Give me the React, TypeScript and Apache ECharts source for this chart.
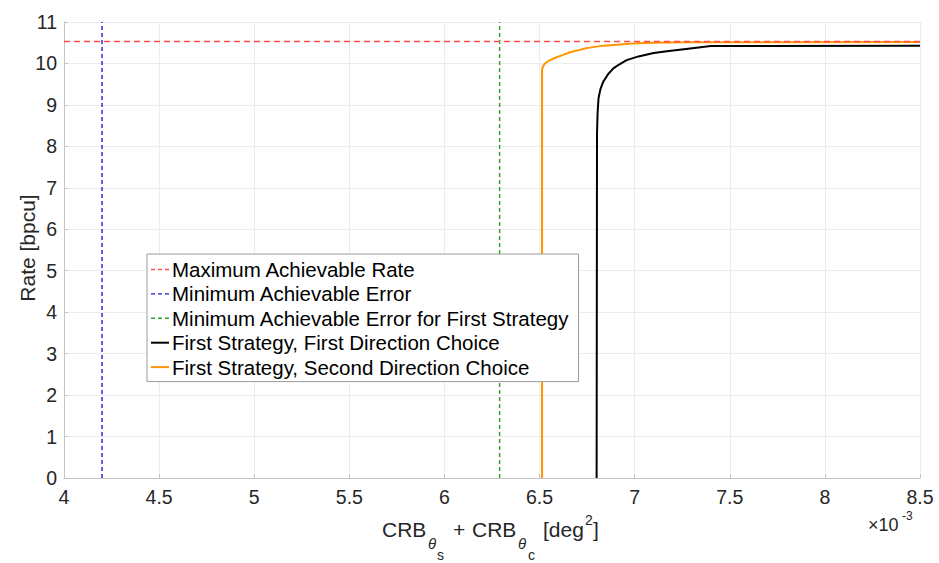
import React, { useEffect, useRef } from "react";
import * as echarts from "echarts";

const xTicksMin = 4;
const xTicksMax = 8.5;
const yTicksMin = 0;
const yTicksMax = 11;

const maxAchievableRate = 10.53;
const minAchievableError = 4.2;
const minErrorFirstStrategy = 6.29;

const firstDirX = [6.8, 6.802, 6.805, 6.81, 6.82, 6.835, 6.86, 6.888, 6.92, 6.958, 7.02, 7.1, 7.18, 7.27, 7.4, 8.5];
const firstDirY = [0, 8.3, 8.8, 9.16, 9.38, 9.56, 9.74, 9.88, 9.98, 10.08, 10.17, 10.25, 10.3, 10.35, 10.42, 10.43];

const secondDirX = [6.513, 6.513, 6.518, 6.529, 6.55, 6.573, 6.62, 6.66, 6.748, 6.835, 6.923, 7.01, 7.1, 7.27, 8.5];
const secondDirY = [0, 9.85, 9.93, 10.0, 10.07, 10.12, 10.2, 10.27, 10.37, 10.43, 10.46, 10.49, 10.5, 10.51, 10.52];

const legendNames = [
  "Maximum Achievable Rate",
  "Minimum Achievable Error",
  "Minimum Achievable Error for First Strategy",
  "First Strategy, First Direction Choice",
  "First Strategy, Second Direction Choice",
];

const FONT = "'Liberation Sans', Arial, Helvetica, sans-serif";
const TXT = "#262626";
const RED = "#ff4a4a";
const BLUE = "#1a1ad6";
const GREEN = "#25a325";
const ORANGE = "#ff9500";

export default function App() {
  const ref = useRef<HTMLDivElement>(null);
  useEffect(() => {
    if (!ref.current) return;
    const chart = echarts.init(ref.current, undefined, { renderer: "svg" });
    const zip = (xs: number[], ys: number[]) => xs.map((x, i) => [x, ys[i]]);
    const dashedLegend = (name: string, color: string) => ({
      name,
      itemStyle: { opacity: 0 },
      lineStyle: { color, width: 1.4, type: [4, 3], opacity: 1 },
    });
    const solidLegend = (name: string, color: string) => ({
      name,
      itemStyle: { opacity: 0 },
      lineStyle: { color, width: 2, type: "solid", opacity: 1 },
    });
    chart.setOption({
      animation: false,
      backgroundColor: "#ffffff",
      grid: { left: 64, right: 19, top: 22, bottom: 85, containLabel: false },
      xAxis: {
        type: "value",
        min: xTicksMin,
        max: xTicksMax,
        interval: 0.5,
        axisLine: { show: true, onZero: false, lineStyle: { color: "#c4c4c4", width: 1 } },
        axisTick: { show: true, inside: true, length: 4, lineStyle: { color: "#c4c4c4" } },
        splitLine: { show: true, lineStyle: { color: "#ececec", width: 1 } },
        axisLabel: { color: TXT, fontSize: 19.5, fontFamily: FONT, margin: 9 },
      },
      yAxis: {
        type: "value",
        min: yTicksMin,
        max: yTicksMax,
        interval: 1,
        axisLine: { show: true, onZero: false, lineStyle: { color: "#c4c4c4", width: 1 } },
        axisTick: { show: true, inside: true, length: 4, lineStyle: { color: "#c4c4c4" } },
        splitLine: { show: true, lineStyle: { color: "#ececec", width: 1 } },
        axisLabel: { color: TXT, fontSize: 19.5, fontFamily: FONT, margin: 7 },
      },
      legend: {
        show: true,
        orient: "vertical",
        left: 147,
        top: 254,
        data: [
          dashedLegend(legendNames[0], RED),
          dashedLegend(legendNames[1], BLUE),
          dashedLegend(legendNames[2], GREEN),
          solidLegend(legendNames[3], "#000000"),
          solidLegend(legendNames[4], ORANGE),
        ],
        itemWidth: 18,
        itemHeight: 14,
        itemGap: 3.4,
        padding: [5, 9, 4, 3],
        backgroundColor: "#ffffff",
        borderColor: "#9a9a9a",
        borderWidth: 1,
        borderRadius: 0,
        selectedMode: false,
        textStyle: { color: "#000000", fontSize: 20.5, fontFamily: FONT, lineHeight: 20, padding: [0, 0, 0, -2] },
      },
      series: [
        {
          name: legendNames[1],
          type: "line",
          symbol: "none",
          data: [[minAchievableError, yTicksMin], [minAchievableError, yTicksMax]],
          lineStyle: { color: BLUE, width: 1.4, type: [4, 3] },
          itemStyle: { color: BLUE },
          z: 2,
        },
        {
          name: legendNames[2],
          type: "line",
          symbol: "none",
          data: [[minErrorFirstStrategy, yTicksMin], [minErrorFirstStrategy, yTicksMax]],
          lineStyle: { color: GREEN, width: 1.4, type: [4, 3] },
          itemStyle: { color: GREEN },
          z: 2,
        },
        {
          name: legendNames[3],
          type: "line",
          symbol: "none",
          data: zip(firstDirX, firstDirY),
          lineStyle: { color: "#000000", width: 2 },
          itemStyle: { color: "#000000" },
          z: 3,
        },
        {
          name: legendNames[4],
          type: "line",
          symbol: "none",
          data: zip(secondDirX, secondDirY),
          lineStyle: { color: ORANGE, width: 2 },
          itemStyle: { color: ORANGE },
          z: 3,
        },
        {
          name: legendNames[0],
          type: "line",
          symbol: "none",
          data: [[xTicksMin, maxAchievableRate], [xTicksMax, maxAchievableRate]],
          lineStyle: { color: RED, width: 1.7, type: [6, 4] },
          itemStyle: { color: RED },
          z: 4,
        },
      ],
      graphic: [
        {
          type: "text",
          x: 27,
          y: 248,
          rotation: Math.PI / 2,
          style: { text: "Rate [bpcu]", fill: TXT, font: `21px ${FONT}`, align: "center", verticalAlign: "middle" },
        },
        { type: "text", x: 382, y: 529, style: { text: "CRB", fill: TXT, font: `21px ${FONT}`, align: "left", verticalAlign: "middle" } },
        { type: "text", x: 428, y: 543, style: { text: "θ", fill: TXT, font: `italic 15px ${FONT}`, align: "left", verticalAlign: "middle" } },
        { type: "text", x: 437, y: 555, style: { text: "s", fill: TXT, font: `14px ${FONT}`, align: "left", verticalAlign: "middle" } },
        { type: "text", x: 453, y: 529, style: { text: "+", fill: TXT, font: `21px ${FONT}`, align: "left", verticalAlign: "middle" } },
        { type: "text", x: 472, y: 529, style: { text: "CRB", fill: TXT, font: `21px ${FONT}`, align: "left", verticalAlign: "middle" } },
        { type: "text", x: 518, y: 543, style: { text: "θ", fill: TXT, font: `italic 15px ${FONT}`, align: "left", verticalAlign: "middle" } },
        { type: "text", x: 528, y: 555, style: { text: "c", fill: TXT, font: `14px ${FONT}`, align: "left", verticalAlign: "middle" } },
        { type: "text", x: 543, y: 529, style: { text: "[deg", fill: TXT, font: `21px ${FONT}`, align: "left", verticalAlign: "middle" } },
        { type: "text", x: 585, y: 520, style: { text: "2", fill: TXT, font: `14px ${FONT}`, align: "left", verticalAlign: "middle" } },
        { type: "text", x: 593, y: 529, style: { text: "]", fill: TXT, font: `21px ${FONT}`, align: "left", verticalAlign: "middle" } },
        { type: "text", x: 868, y: 525, style: { text: "×10", fill: TXT, font: `18px ${FONT}`, align: "left", verticalAlign: "middle" } },
        { type: "text", x: 902, y: 516, style: { text: "-3", fill: TXT, font: `12px ${FONT}`, align: "left", verticalAlign: "middle" } },
      ],
    });
    return () => chart.dispose();
  }, []);
  return <div ref={ref} style={{ width: 939, height: 563, position: "absolute", left: 0, top: 0 }} />;
}
